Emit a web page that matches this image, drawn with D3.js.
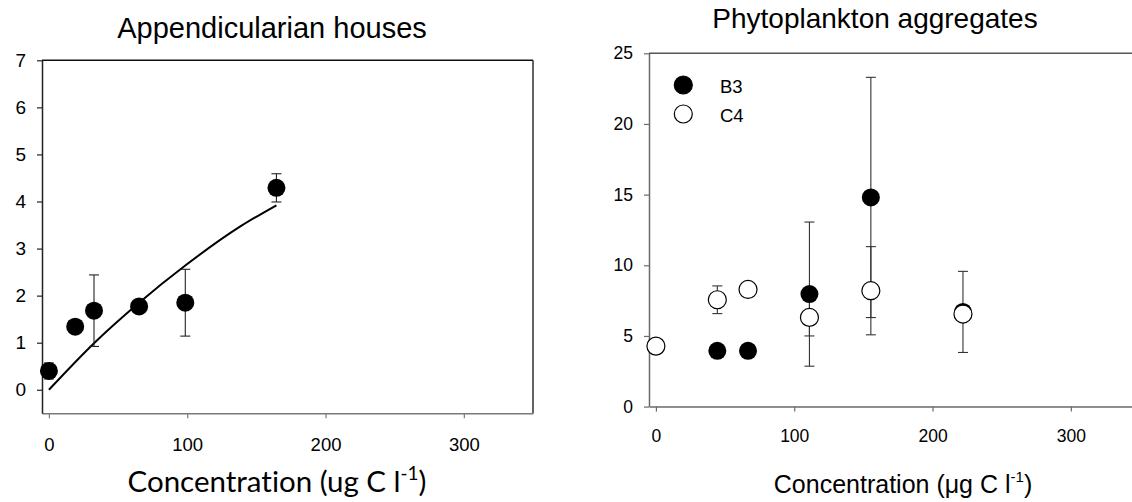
<!DOCTYPE html>
<html><head><meta charset="utf-8">
<script src="https://cdn.jsdelivr.net/npm/d3@7"></script>
<style>
body{margin:0;background:#fff}
svg{display:block}
text{font-family:"Liberation Sans",Arial,sans-serif;fill:#000;font-variant-ligatures:none}
</style>
</head><body>
<svg id="chart" width="1132" height="502"></svg>
<script>
// Appendicularian houses: concentration vs value, with SD and fitted curve
const houseConc = [0, 19, 32.6, 65.2, 98.6, 164.5];
const houseVal  = [0.4, 1.34, 1.68, 1.77, 1.85, 4.29];
const houseErr  = [0.17, 0, 0.76, 0, 0.71, 0.3];
const houseFitConc = [0, 32.6, 65.2, 98.6, 138.4, 164.5];
const houseFitVal  = [0, 0.99, 1.85, 2.64, 3.47, 3.92];
const houseYTicks = [0, 1, 2, 3, 4, 5, 6, 7];
const concTicks = [0, 100, 200, 300];

// Phytoplankton aggregates: two stations
const seriesNames = ["B3", "C4"];
const aggConcB3 = [44.4, 66.6, 111, 155.4, 222];
const aggB3     = [3.95, 3.95, 7.96, 14.8, 6.7];
const aggB3Err  = [0, 0, 5.1, 8.5, 2.87];
const aggConcC4 = [0, 44.4, 66.6, 111, 155.4, 222];
const aggC4     = [4.28, 7.56, 8.29, 6.31, 8.2, 6.55];
const aggC4Err  = [0, 0.98, 0, 1.31, 3.12, 0];
const aggYTicks = [0, 5, 10, 15, 20, 25];

const svg = d3.select("#chart");
const R = 9;

function errorBars(g, x, y, xs, ys, es, color) {
  xs.forEach((cx, i) => {
    const e = es[i];
    if (!e) return;
    const px = x(cx), top = y(ys[i] + e), bot = y(ys[i] - e);
    g.append("line").attr("x1", px).attr("x2", px).attr("y1", top).attr("y2", bot)
      .attr("stroke", color).attr("stroke-width", 1.1);
    [top, bot].forEach(py => g.append("line").attr("x1", px - 5).attr("x2", px + 5)
      .attr("y1", py).attr("y2", py).attr("stroke", color).attr("stroke-width", 1.1));
  });
}

function frame(g, x0, x1, y0, y1, c) {
  g.append("line").attr("x1", x0).attr("x2", x1).attr("y1", y0).attr("y2", y0)
    .attr("stroke", c.top).attr("stroke-width", 1.4);
  g.append("line").attr("x1", x1).attr("x2", x1).attr("y1", y0).attr("y2", y1)
    .attr("stroke", c.right).attr("stroke-width", 1.4);
}

function styleAxis(sel, color, fontSize) {
  sel.select(".domain").attr("stroke", color).attr("stroke-width", 1.5);
  sel.selectAll(".tick line").attr("stroke", color).attr("stroke-width", 1.2);
  sel.selectAll(".tick text").attr("font-family", "Liberation Sans, Arial, sans-serif")
    .attr("font-size", fontSize).attr("fill", "#000");
}

// ---------- Left panel ----------
{
  const x = d3.scaleLinear().domain([-5, 350]).range([42, 533]);
  const y = d3.scaleLinear().domain([-0.5, 7]).range([413.3, 60.3]);
  const g = svg.append("g");

  frame(g, x(-5), x(350), y(7), y(-0.5), {top: "#111", right: "#222"});

  const xa = g.append("g").attr("transform", `translate(0,${y(-0.5)})`)
    .call(d3.axisBottom(x).tickValues(concTicks).tickSize(5).tickPadding(20).tickSizeOuter(0));
  styleAxis(xa, "#7a7a7a", 18.5);
  const ya = g.append("g").attr("transform", `translate(${x(-5)},0)`)
    .call(d3.axisLeft(y).tickValues(houseYTicks).tickSize(5).tickPadding(11).tickSizeOuter(0));
  styleAxis(ya, "#222", 19);

  const line = d3.line().x((d, i) => x(houseFitConc[i])).y(d => y(d)).curve(d3.curveMonotoneX);
  g.append("path").attr("d", line(houseFitVal)).attr("fill", "none")
    .attr("stroke", "#000").attr("stroke-width", 2);

  errorBars(g, x, y, houseConc, houseVal, houseErr, "#222");
  g.selectAll("circle.h").data(houseVal).join("circle").attr("class", "h")
    .attr("cx", (d, i) => x(houseConc[i])).attr("cy", d => y(d)).attr("r", R).attr("fill", "#000");

  g.append("text").attr("x", 272).attr("y", 38).attr("text-anchor", "middle")
    .attr("font-size", 29).text("Appendicularian houses");

  const lab = g.append("text").attr("x", 277).attr("y", 492).attr("text-anchor", "middle")
    .style("font-family", "Lato, 'Open Sans', sans-serif").attr("font-size", 29.5);
  lab.append("tspan").text("Concentration (ug C l");
  lab.append("tspan").attr("dy", -12).attr("font-size", 19).text("-1");
  lab.append("tspan").attr("dy", 12).text(")");
}

// ---------- Right panel ----------
{
  const x = d3.scaleLinear().domain([-5, 350]).range([649, 1140]);
  const y = d3.scaleLinear().domain([0, 25]).range([406.6, 53.3]);
  const g = svg.append("g");

  frame(g, x(-5), x(350), y(25), y(0), {top: "#555", right: "#555"});

  const xa = g.append("g").attr("transform", `translate(0,${y(0)})`)
    .call(d3.axisBottom(x).tickValues(concTicks).tickSize(5).tickPadding(18).tickSizeOuter(0));
  styleAxis(xa, "#6a6a6a", 17.5);
  const ya = g.append("g").attr("transform", `translate(${x(-5)},0)`)
    .call(d3.axisLeft(y).tickValues(aggYTicks).tickSize(5).tickPadding(11).tickSizeOuter(0));
  styleAxis(ya, "#6a6a6a", 17.5);

  errorBars(g, x, y, aggConcB3, aggB3, aggB3Err, "#333");
  errorBars(g, x, y, aggConcC4, aggC4, aggC4Err, "#333");

  g.selectAll("circle.b3").data(aggB3).join("circle").attr("class", "b3")
    .attr("cx", (d, i) => x(aggConcB3[i])).attr("cy", d => y(d)).attr("r", R).attr("fill", "#000");
  g.selectAll("circle.c4").data(aggC4).join("circle").attr("class", "c4")
    .attr("cx", (d, i) => x(aggConcC4[i])).attr("cy", d => y(d)).attr("r", R)
    .attr("fill", "#fff").attr("stroke", "#000").attr("stroke-width", 1.2);

  // legend
  const leg = g.append("g");
  seriesNames.forEach((name, i) => {
    const cy = 85 + i * 29;
    leg.append("circle").attr("cx", 683.3).attr("cy", cy).attr("r", R)
      .attr("fill", i === 0 ? "#000" : "#fff").attr("stroke", "#000").attr("stroke-width", 1.2);
    leg.append("text").attr("x", 720).attr("y", cy + 7.5).attr("font-size", 18.5).text(name);
  });

  g.append("text").attr("x", 875).attr("y", 28).attr("text-anchor", "middle")
    .attr("font-size", 28).text("Phytoplankton aggregates");

  const lab = g.append("text").attr("x", 903).attr("y", 493).attr("text-anchor", "middle")
    .attr("font-size", 25);
  lab.append("tspan").text("Concentration (\u03bcg C l");
  lab.append("tspan").attr("dy", -11).attr("font-size", 15).text("-1");
  lab.append("tspan").attr("dy", 11).text(")");
}
</script>
</body></html>
